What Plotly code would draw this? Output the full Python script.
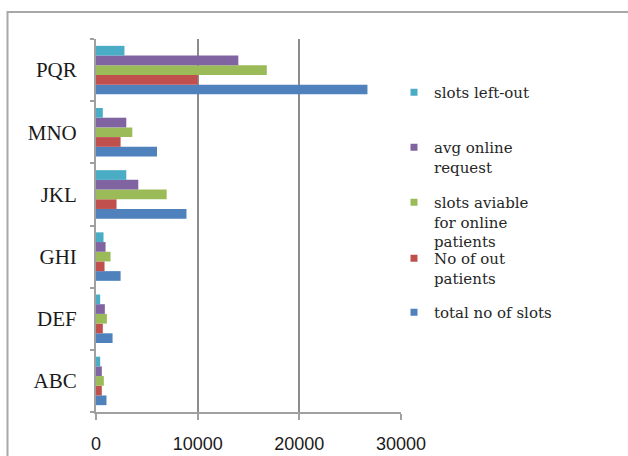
import plotly.graph_objects as go

categories = ["ABC", "DEF", "GHI", "JKL", "MNO", "PQR"]

total_slots = [1030, 1630, 2420, 8900, 6000, 26700]
out_patients = [570, 670, 840, 2020, 2420, 10000]
online_available = [770, 1070, 1430, 6950, 3570, 16800]
avg_online_request = [570, 870, 940, 4160, 2980, 14000]
slots_left_out = [410, 410, 740, 2980, 670, 2800]

x_ticks = [0, 10000, 20000, 30000]

series = [
    ("total no of slots", total_slots, "#4F81BD"),
    ("No of out<br>patients", out_patients, "#C0504D"),
    ("slots aviable<br>for online<br>patients", online_available, "#9BBB59"),
    ("avg online<br>request", avg_online_request, "#8064A2"),
    ("slots left-out", slots_left_out, "#4BACC6"),
]

# vertical pixel position of each legend entry's first line (top of figure = 0)
legend_rows = [313, 259, 203, 148, 93]

W, H = 628, 456
ML, MR, MT, MB = 96, 227, 39, 44
plot_w = W - ML - MR
plot_h = H - MT - MB

SERIF = "Liberation Serif, Times New Roman, serif"
LEGEND_SERIF = "DejaVu Serif, serif"


def px_x(p):
    return (p - ML) / plot_w


def px_y(p):
    return (H - MB - p) / plot_h


fig = go.Figure()
layout_legends = {}
for i, (name, vals, color) in enumerate(series):
    key = "legend" if i == 0 else f"legend{i + 1}"
    fig.add_trace(go.Bar(
        y=categories, x=vals, orientation="h", name=name,
        marker=dict(color=color, line=dict(width=0)),
        showlegend=False,
    ))
    fig.add_trace(go.Scatter(
        x=[None], y=[None], mode="markers", name=name,
        marker=dict(symbol="square", size=7, color=color),
        legend=key, showlegend=True,
    ))
    layout_legends[key] = dict(
        x=px_x(394), y=px_y(legend_rows[i] - 17), xanchor="left", yanchor="top",
        bgcolor="rgba(0,0,0,0)", valign="top",
        font=dict(family=LEGEND_SERIF, size=15, color="#262626"),
        itemwidth=30,
    )

fig.update_layout(
    width=W, height=H,
    font=dict(family=SERIF, size=16, color="#262626"),
    margin=dict(l=ML, r=MR, t=MT, b=MB, autoexpand=False),
    paper_bgcolor="white", plot_bgcolor="white",
    barmode="group", bargap=0.22, bargroupgap=0,
    xaxis=dict(
        range=[0, 30000], tickvals=x_ticks,
        ticktext=[str(v) for v in x_ticks],
        automargin=False,
        showgrid=True, gridcolor="#8c8c8c", gridwidth=2,
        zeroline=False, showline=True, linecolor="#a0a0a0", linewidth=2,
        ticks="outside", ticklen=6, tickcolor="#a0a0a0", tickwidth=2,
        ticklabelstandoff=8,
        tickfont=dict(family="Liberation Sans, Arial, sans-serif", size=18,
                      color="#1a1a1a"),
    ),
    yaxis=dict(
        type="category", categoryorder="array", categoryarray=categories,
        automargin=False,
        showgrid=False, zeroline=False, showline=True,
        linecolor="#a0a0a0", linewidth=2,
        ticks="outside", tickson="boundaries", ticklen=4,
        tickcolor="#a0a0a0", tickwidth=1.5,
        ticklabelstandoff=13,
        tickfont=dict(family=SERIF, size=21, color="#1a1a1a"),
    ),
    shapes=[dict(
        type="rect", xref="paper", yref="paper", layer="below",
        x0=px_x(7.5), x1=px_x(660), y0=px_y(480), y1=px_y(12),
        line=dict(color="#a8a8a8", width=2), fillcolor="rgba(0,0,0,0)",
    )],
    **layout_legends,
)

fig.write_html("out.html")
